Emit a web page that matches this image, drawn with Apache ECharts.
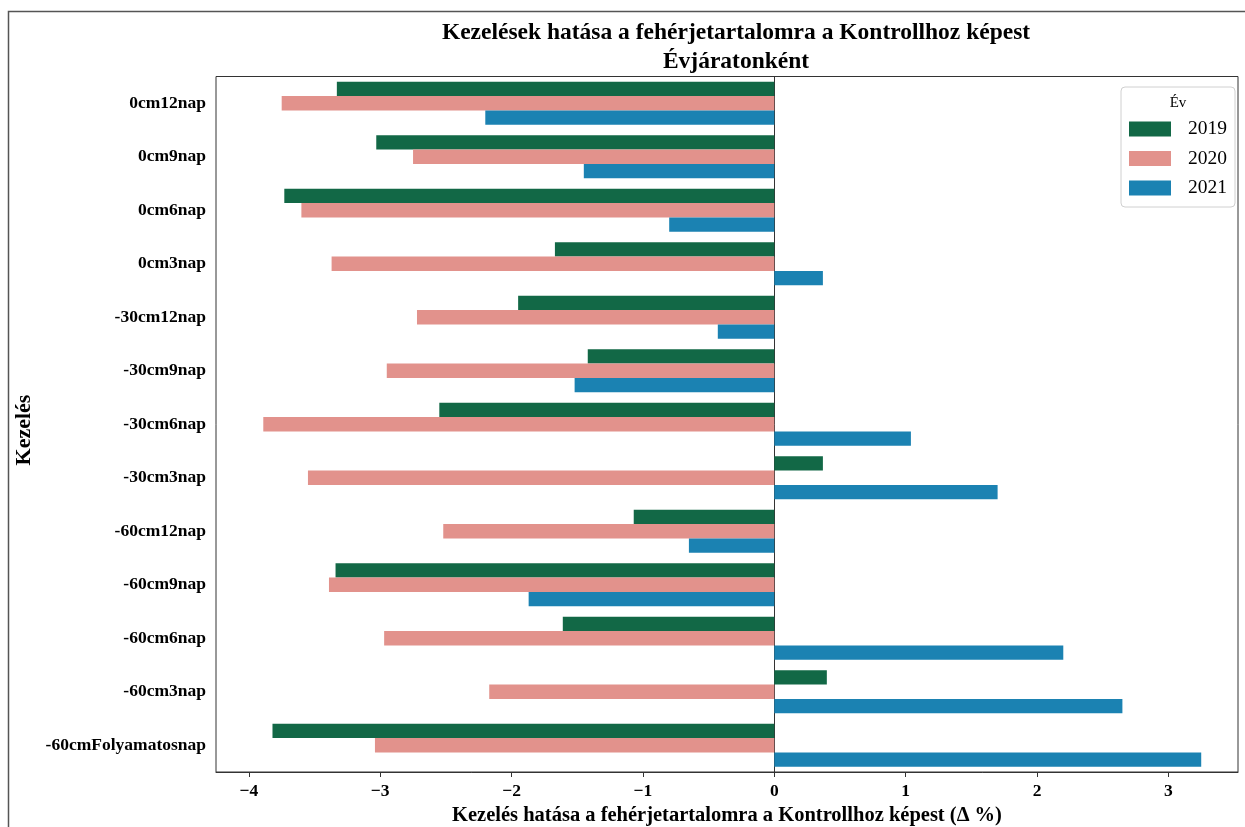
<!DOCTYPE html>
<html>
<head>
<meta charset="utf-8">
<script src="https://cdn.jsdelivr.net/npm/echarts@6/dist/echarts.min.js"></script>
<style>
html,body{margin:0;padding:0;background:#fff;}
#chart{width:1245px;height:827px;}
</style>
</head>
<body>
<div id="chart"></div>
<script>
const categories = ['0cm12nap','0cm9nap','0cm6nap','0cm3nap','-30cm12nap','-30cm9nap','-30cm6nap','-30cm3nap','-60cm12nap','-60cm9nap','-60cm6nap','-60cm3nap','-60cmFolyamatosnap'];
const years = ['2019','2020','2021'];
const values2019 = [-3.33,-3.03,-3.73,-1.67,-1.95,-1.42,-2.55,0.37,-1.07,-3.34,-1.61,0.40,-3.82];
const values2020 = [-3.75,-2.75,-3.60,-3.37,-2.72,-2.95,-3.89,-3.55,-2.52,-3.39,-2.97,-2.17,-3.04];
const values2021 = [-2.20,-1.45,-0.80,0.37,-0.43,-1.52,1.04,1.70,-0.65,-1.87,2.20,2.65,3.25];
const xTicks = [-4,-3,-2,-1,0,1,2,3];
const colors = ['#126846','#e2928c','#1b82b2'];

const FONT = '"Liberation Serif","DejaVu Serif",serif';
const chart = echarts.init(document.getElementById('chart'));
const seriesData = [values2019, values2020, values2021];

chart.setOption({
  animation: false,
  backgroundColor: '#fff',
  title: {
    text: 'Kezelések hatása a fehérjetartalomra a Kontrollhoz képest\nÉvjáratonként',
    left: 731, top: 13, textAlign: 'center',
    textStyle: {fontFamily: FONT, fontWeight: 'bold', fontSize: 23.5, lineHeight: 29, color: '#000'}
  },
  legend: {
    orient: 'vertical',
    left: 1121, top: 87,
    padding: [32, 8, 9, 8],
    itemWidth: 42, itemHeight: 15, itemGap: 9.5,
    borderColor: '#d0d0d0', borderWidth: 1, borderRadius: 4,
    icon: 'rect',
    data: years,
    textStyle: {fontFamily: FONT, fontSize: 19.5, lineHeight: 20, color: '#000', padding: [0,0,0,12]}
  },
  graphic: [
    {type: 'rect', silent: true, z: -1, shape: {x: 8.5, y: 11.5, width: 1250, height: 830},
     style: {fill: 'none', stroke: '#555', lineWidth: 1.5}},
    {type: 'text', x: 1178, y: 103, silent: true,
     style: {text: 'Év', fontFamily: FONT, fontSize: 15, fill: '#000', align: 'center', verticalAlign: 'middle'}},
    {type: 'text', x: 24, y: 430, rotation: Math.PI/2, silent: true,
     style: {text: 'Kezelés', fontFamily: FONT, fontSize: 22, fontWeight: 'bold', fill: '#000', align: 'center', verticalAlign: 'middle'}}
  ],
  grid: {left: 216, right: 7, top: 76.5, bottom: 55, show: true, borderColor: '#333', borderWidth: 1,
         containLabel: false, outerBoundsMode: 'none'},
  xAxis: {
    type: 'value', min: -4.25, max: 3.53,
    name: 'Kezelés hatása a fehérjetartalomra a Kontrollhoz képest (Δ %)',
    nameLocation: 'middle', nameGap: 33,
    nameTextStyle: {fontFamily: FONT, fontWeight: 'bold', fontSize: 20.5, color: '#000'},
    axisLine: {show: true, lineStyle: {color: '#333'}},
    axisTick: {show: true, length: 5, lineStyle: {color: '#333'}, customValues: xTicks},
    axisLabel: {fontFamily: FONT, fontWeight: 'bold', fontSize: 17.5, color: '#000', margin: 10,
      customValues: xTicks,
      formatter: v => (v < 0 ? '\u2212' + Math.abs(v) : String(v))},
    splitLine: {show: false}
  },
  yAxis: {
    type: 'category', data: categories, inverse: true,
    axisLine: {show: true, lineStyle: {color: '#333'}},
    axisTick: {show: true, length: 5, alignWithLabel: true, lineStyle: {color: '#333'}},
    axisLabel: {fontFamily: FONT, fontWeight: 'bold', fontSize: 17.5, color: '#000', margin: 10},
    splitLine: {show: false}
  },
  series: years.map((y, i) => ({
    name: y, type: 'bar', data: seriesData[i],
    barGap: '0%', barCategoryGap: '20%',
    itemStyle: {color: colors[i]}
  }))
});
</script>
</body>
</html>
